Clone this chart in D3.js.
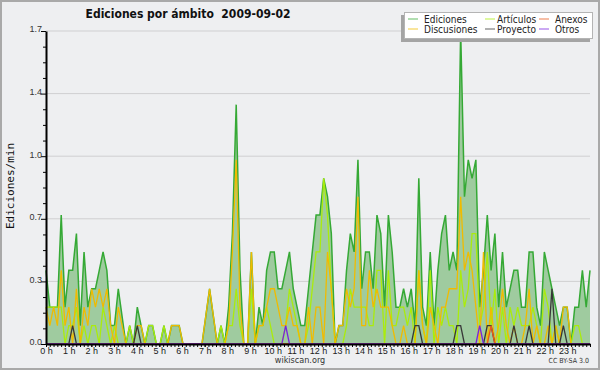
<!DOCTYPE html>
<html>
<head>
<meta charset="utf-8">
<script src="https://cdn.jsdelivr.net/npm/d3@7"></script>
<style>
  html, body { margin: 0; padding: 0; background: #eeeff1; }
  svg { display: block; font-family: "DejaVu Sans Condensed", "DejaVu Sans", sans-serif; font-stretch: condensed; }
</style>
</head>
<body>
<div id="chart"></div>
<script>
// edits per minute, one value every 10 minutes (00:00 .. 23:50)
const ediciones = [
    0.4, 0.2, 0.2, 0.2, 0.7, 0.2, 0.4, 0.4, 0.6, 0.1, 0.5, 0.2,
    0.3, 0.3, 0.4, 0.5, 0.4, 0.1, 0.1, 0.3, 0.15, 0, 0.1, 0,
    0.2, 0.1, 0, 0.1, 0.1, 0, 0, 0.1, 0, 0.1, 0.1, 0.1,
    0, 0, 0, 0, 0, 0, 0.15, 0.3, 0.15, 0, 0.1, 0,
    0.2, 0.6, 1.3, 0.4, 0, 0, 0.5, 0, 0.2, 0.1, 0.4, 0.5,
    0.5, 0.3, 0.3, 0.4, 0.5, 0.3, 0.2, 0.1, 0.1, 0.3, 0.5, 0.7,
    0.7, 0.9, 0.8, 0.6, 0, 0.1, 0.1, 0.4, 0.6, 0.5, 1.0, 0.3,
    0.5, 0.5, 0.3, 0.7, 0.6, 0.2, 0.7, 0.5, 0.2, 0.2, 0.3, 0.2,
    0.3, 0.1, 0.9, 0.2, 0.1, 0.5, 0.1, 0.4, 0.6, 0.7, 0.4, 0.5,
    0.4, 1.7, 0.8, 1.0, 0.9, 1.0, 0.2, 0.4, 0.7, 0.4, 0.6, 0.2,
    0.5, 0.2, 0.3, 0.4, 0.4, 0.2, 0.2, 0.5, 0.5, 0.2, 0.1, 0.5,
    0.4, 0.3, 0.2, 0.1, 0.2, 0.2, 0, 0.2, 0.2, 0.4, 0.2, 0.4
];
const articulos = [
    0.2, 0.2, 0.2, 0.2, 0.2, 0, 0.1, 0.1, 0.2, 0, 0.1, 0,
    0.1, 0.1, 0, 0.2, 0.1, 0, 0.1, 0, 0, 0, 0.1, 0,
    0, 0, 0, 0.1, 0.1, 0, 0, 0.1, 0, 0, 0, 0,
    0, 0, 0, 0, 0, 0, 0, 0, 0, 0, 0.1, 0,
    0.1, 0.1, 0.3, 0.1, 0, 0, 0.3, 0, 0.1, 0.1, 0.2, 0.1,
    0, 0, 0, 0.1, 0.3, 0.2, 0.1, 0, 0, 0.1, 0.3, 0.5,
    0.5, 0.9, 0.7, 0.3, 0, 0, 0, 0.1, 0.3, 0.2, 0.2, 0.2,
    0.2, 0.1, 0.1, 0.4, 0.4, 0, 0.4, 0.1, 0.1, 0.2, 0.2, 0.1,
    0.2, 0, 0.4, 0.1, 0, 0.4, 0, 0.2, 0.1, 0.2, 0.1, 0.1,
    0, 0.4, 0.2, 0.3, 0.6, 0.6, 0.1, 0.2, 0.5, 0.1, 0.3, 0,
    0.2, 0, 0.2, 0.1, 0.2, 0.1, 0.1, 0.1, 0.2, 0.1, 0, 0.3,
    0.2, 0, 0.1, 0, 0, 0, 0, 0.1, 0.1, 0, 0, 0
];
const discusiones = [
    0.2, 0.1, 0.2, 0.1, 0.4, 0.1, 0.2, 0, 0.3, 0, 0.2, 0.1,
    0.3, 0.2, 0.3, 0.2, 0.3, 0.1, 0, 0.2, 0.1, 0, 0, 0,
    0.1, 0.1, 0, 0, 0, 0, 0, 0, 0, 0.1, 0.1, 0.1,
    0, 0, 0, 0, 0, 0, 0.15, 0.3, 0.15, 0, 0, 0,
    0.1, 0.5, 1.0, 0.2, 0, 0, 0.5, 0, 0.1, 0.1, 0.2, 0.3,
    0.3, 0.2, 0.1, 0.1, 0.2, 0.1, 0.1, 0, 0, 0.2, 0, 0.2,
    0.2, 0, 0.5, 0.3, 0, 0.1, 0.1, 0.3, 0.2, 0.3, 0.8, 0.1,
    0.1, 0.4, 0.2, 0.3, 0.2, 0.2, 0.2, 0.1, 0, 0, 0.1, 0,
    0, 0, 0.4, 0.1, 0, 0.2, 0.1, 0, 0.2, 0.2, 0.3, 0.3,
    0.3, 0.8, 0.4, 0.5, 0.4, 0.2, 0, 0.5, 0, 0.2, 0, 0.1,
    0.3, 0.1, 0, 0.1, 0, 0, 0.1, 0.3, 0, 0.1, 0, 0,
    0.1, 0, 0.1, 0, 0.2, 0.2, 0, 0, 0, 0, 0, 0
];
const proyecto = [
    0, 0, 0, 0, 0, 0, 0, 0.1, 0, 0, 0, 0,
    0, 0, 0, 0, 0, 0, 0, 0, 0, 0, 0, 0,
    0.1, 0, 0, 0, 0, 0, 0, 0, 0, 0, 0, 0,
    0, 0, 0, 0, 0, 0, 0, 0, 0, 0, 0, 0,
    0, 0, 0, 0, 0, 0, 0, 0, 0, 0, 0, 0,
    0, 0, 0, 0, 0, 0, 0, 0, 0, 0, 0, 0,
    0, 0, 0, 0, 0, 0, 0, 0, 0, 0, 0, 0,
    0, 0, 0, 0, 0, 0, 0, 0, 0, 0, 0, 0,
    0, 0.1, 0.1, 0, 0, 0, 0, 0, 0, 0, 0, 0,
    0.1, 0.1, 0, 0, 0, 0, 0, 0, 0.1, 0.1, 0, 0,
    0, 0, 0, 0.1, 0, 0, 0, 0.1, 0, 0, 0, 0,
    0, 0.3, 0, 0, 0.1, 0, 0, 0, 0, 0, 0, 0
];
const anexos = [
    0, 0, 0, 0, 0, 0, 0, 0, 0, 0, 0, 0,
    0, 0, 0, 0, 0, 0, 0, 0, 0, 0, 0, 0,
    0, 0, 0, 0, 0, 0, 0, 0, 0, 0, 0, 0,
    0, 0, 0, 0, 0, 0, 0, 0, 0, 0, 0, 0,
    0, 0, 0, 0, 0, 0, 0, 0, 0, 0, 0, 0,
    0, 0, 0, 0, 0, 0, 0, 0, 0, 0, 0, 0,
    0, 0, 0, 0, 0, 0, 0, 0, 0, 0, 0, 0,
    0, 0, 0, 0, 0, 0, 0, 0, 0, 0, 0, 0,
    0, 0, 0, 0, 0, 0, 0, 0, 0, 0, 0, 0,
    0, 0, 0, 0, 0, 0, 0, 0, 0, 0.1, 0, 0,
    0, 0, 0, 0, 0, 0, 0, 0, 0, 0, 0, 0,
    0, 0, 0, 0, 0, 0, 0, 0, 0, 0, 0, 0
];
const otros = [
    0, 0, 0, 0, 0, 0, 0, 0, 0, 0, 0, 0,
    0, 0, 0, 0, 0, 0, 0, 0, 0, 0, 0, 0,
    0, 0, 0, 0, 0, 0, 0, 0, 0, 0, 0, 0,
    0, 0, 0, 0, 0, 0, 0, 0, 0, 0, 0, 0,
    0, 0, 0, 0, 0, 0, 0, 0, 0, 0, 0, 0,
    0, 0, 0, 0.1, 0, 0, 0, 0, 0, 0, 0, 0,
    0, 0, 0, 0, 0, 0, 0, 0, 0, 0, 0, 0,
    0, 0, 0, 0, 0, 0, 0, 0, 0, 0, 0, 0,
    0, 0, 0, 0, 0, 0, 0, 0, 0, 0, 0, 0,
    0, 0, 0, 0, 0, 0, 0.1, 0, 0, 0, 0, 0,
    0, 0, 0, 0, 0, 0, 0, 0, 0, 0, 0, 0,
    0, 0, 0, 0, 0, 0, 0, 0, 0, 0, 0, 0
];

// axis ticks and labels
const yTicks = [0, 0.34, 0.68, 1.02, 1.36, 1.7];
const yTickLabels = ['0.0', '0.3', '0.7', '1.0', '1.4', '1.7'];
const hourLabels = ['0 h', '1 h', '2 h', '3 h', '4 h', '5 h', '6 h', '7 h', '8 h', '9 h', '10 h', '11 h',
    '12 h', '13 h', '14 h', '15 h', '16 h', '17 h', '18 h', '19 h', '20 h', '21 h', '22 h', '23 h'];

// legend, in drawing order of its two rows
const legendRows = [
    ['Ediciones', 'Artículos', 'Anexos'],
    ['Discusiones', 'Proyecto', 'Otros']
];

const colors = {
    'Ediciones': '#35a935',
    'Artículos': '#aaec0c',
    'Anexos': '#e8581a',
    'Discusiones': '#f0bb00',
    'Proyecto': '#383838',
    'Otros': '#7a22e0'
};

const series = [
    { name: 'Artículos', values: articulos },
    { name: 'Discusiones', values: discusiones },
    { name: 'Proyecto', values: proyecto },
    { name: 'Anexos', values: anexos },
    { name: 'Otros', values: otros }
];

function drawChart() {
    const width = 600;
    const height = 370;
    const plot = { left: 46, right: 590, top: 31, bottom: 344 };

    const svg = d3.select('#chart')
        .append('svg')
        .attr('width', width)
        .attr('height', height);

    // background and frame
    svg.append('rect')
        .attr('x', 1).attr('y', 1)
        .attr('width', width - 2).attr('height', height - 2)
        .attr('fill', '#eeeff1')
        .attr('stroke', '#a9a9a9')
        .attr('stroke-width', 2);

    const xIdx = d3.scaleLinear()
        .domain([0, ediciones.length - 1])
        .range([plot.left, plot.right]);

    const xHour = d3.scaleLinear()
        .domain([0, 24])
        .range([plot.left, plot.right]);

    const yScale = d3.scaleLinear()
        .domain([0, 1.7])
        .range([plot.bottom, plot.top]);

    // grid lines
    svg.append('g')
        .selectAll('line')
        .data(yTicks.slice(1))
        .join('line')
        .attr('x1', plot.left).attr('x2', plot.right)
        .attr('y1', d => yScale(d)).attr('y2', d => yScale(d))
        .attr('stroke', '#cfcfd1')
        .attr('stroke-width', 1);

    // total edits as a filled area
    const area = d3.area()
        .x((d, i) => xIdx(i))
        .y0(yScale(0))
        .y1(d => yScale(d));

    const line = d3.line()
        .x((d, i) => xIdx(i))
        .y(d => yScale(d));

    svg.append('path')
        .datum(ediciones)
        .attr('d', area)
        .attr('fill', '#9fcb9f');

    svg.append('path')
        .datum(ediciones)
        .attr('d', line)
        .attr('fill', 'none')
        .attr('stroke', colors['Ediciones'])
        .attr('stroke-width', 1.5);

    svg.append('g')
        .selectAll('path')
        .data(series)
        .join('path')
        .attr('d', d => line(d.values))
        .attr('fill', 'none')
        .attr('stroke', d => colors[d.name])
        .attr('stroke-width', 1.3);

    // y axis
    const minorY = [];
    for (let k = 0; k < yTicks.length - 1; k++) {
        const step = (yTicks[k + 1] - yTicks[k]) / 4;
        for (let j = 1; j < 4; j++) minorY.push(yTicks[k] + j * step);
    }

    svg.append('g')
        .attr('transform', `translate(${plot.left},0)`)
        .call(d3.axisLeft(yScale).tickValues(minorY).tickSize(3).tickFormat(''))
        .call(g => g.select('.domain').remove());

    const yAxis = svg.append('g')
        .attr('transform', `translate(${plot.left},0)`)
        .call(d3.axisLeft(yScale).tickValues(yTicks).tickSize(5).tickSizeOuter(0)
            .tickFormat((d, i) => yTickLabels[i]));
    yAxis.select('.domain').attr('stroke-width', 2);
    yAxis.selectAll('text')
        .attr('font-size', 9)
        .attr('font-family', null)
        .attr('fill', '#333')
        .attr('x', -4)
        .attr('dy', '0.1em');

    // x axis
    svg.append('g')
        .attr('transform', `translate(0,${plot.bottom})`)
        .call(d3.axisBottom(xHour).tickValues(d3.range(0, 24 * 6 + 1).map(d => d / 6))
            .tickSize(3).tickFormat(''))
        .call(g => g.select('.domain').remove());

    const xAxis = svg.append('g')
        .attr('transform', `translate(0,${plot.bottom})`)
        .call(d3.axisBottom(xHour).tickValues(d3.range(0, 24)).tickSize(3).tickSizeOuter(0)
            .tickFormat(d => hourLabels[d]));
    xAxis.select('.domain').attr('stroke-width', 2);
    xAxis.selectAll('text')
        .attr('font-size', 9)
        .attr('font-family', null)
        .attr('fill', '#222')
        .attr('y', 4);

    // titles and credits
    svg.append('text')
        .attr('x', 188)
        .attr('y', 18)
        .attr('text-anchor', 'middle')
        .attr('font-size', 12)
        .attr('font-weight', 'bold')
        .attr('fill', '#111')
        .style('white-space', 'pre')
        .text('Ediciones por ámbito  2009-09-02');

    svg.append('text')
        .attr('transform', 'translate(14,186) rotate(-90)')
        .attr('text-anchor', 'middle')
        .attr('font-family', '"DejaVu Sans Mono", monospace')
        .style('font-stretch', 'normal')
        .attr('font-size', 11)
        .attr('fill', '#111')
        .text('Ediciones/min');

    svg.append('text')
        .attr('x', 300)
        .attr('y', 363)
        .attr('text-anchor', 'middle')
        .attr('font-size', 9)
        .attr('fill', '#333')
        .text('wikiscan.org');

    svg.append('text')
        .attr('x', 589)
        .attr('y', 363)
        .attr('text-anchor', 'end')
        .attr('font-size', 7)
        .attr('fill', '#333')
        .text('CC BY-SA 3.0');

    // legend box with shadow
    const legend = svg.append('g');
    legend.append('rect')
        .attr('x', 401).attr('y', 15)
        .attr('width', 189).attr('height', 27)
        .attr('fill', '#a4a4a4');
    legend.append('rect')
        .attr('x', 404.5).attr('y', 12.5)
        .attr('width', 188).attr('height', 26)
        .attr('fill', '#fff')
        .attr('stroke', '#b4b4b4');

    const colLine = [408, 485, 539];
    const colText = [424, 497, 555];
    legendRows.forEach((row, r) => {
        const g = legend.append('g')
            .attr('transform', `translate(0,${19 + r * 10})`);
        g.selectAll('line')
            .data(row)
            .join('line')
            .attr('x1', (d, i) => colLine[i])
            .attr('x2', (d, i) => colLine[i] + 10)
            .attr('stroke', d => colors[d])
            .attr('stroke-opacity', 0.65)
            .attr('stroke-width', 1.2);
        g.selectAll('text')
            .data(row)
            .join('text')
            .attr('x', (d, i) => colText[i])
            .attr('y', 3.5)
            .attr('font-size', 10)
            .attr('fill', '#222')
            .text(d => d);
    });
}

document.addEventListener('DOMContentLoaded', drawChart);
</script>
</body>
</html>
